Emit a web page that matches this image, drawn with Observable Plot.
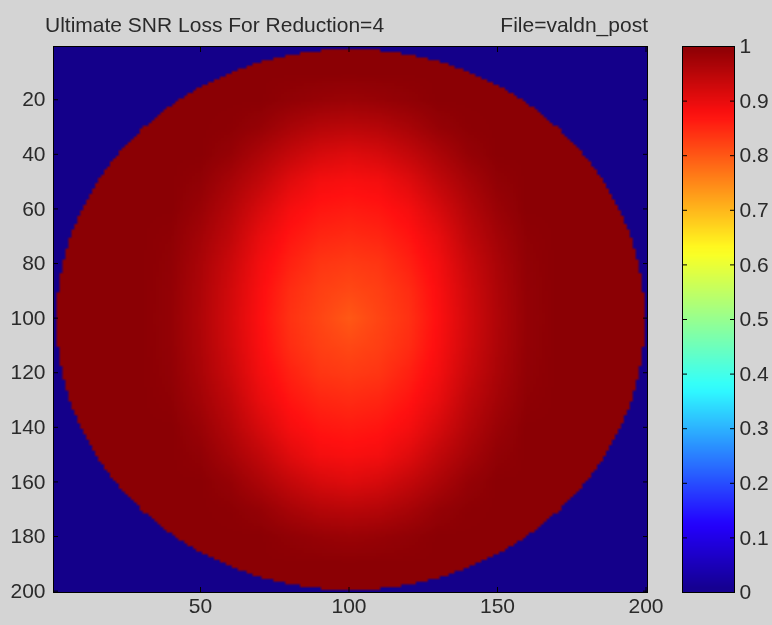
<!DOCTYPE html>
<html><head><meta charset="utf-8">
<script src="https://cdn.jsdelivr.net/npm/d3@7"></script>
<script src="https://cdn.jsdelivr.net/npm/@observablehq/plot@0.6"></script>
<style>
html,body{margin:0;padding:0;background:#d4d4d4;}
#fig{position:relative;width:772px;height:625px;background:#d4d4d4;overflow:hidden;font-family:"Liberation Sans",Arial,sans-serif;filter:blur(0.6px);}
.t{position:absolute;font-size:21px;color:#2a2a2a;white-space:nowrap;line-height:24px;}
#main{position:absolute;left:0;top:0;}
#cbar{position:absolute;left:660px;top:0;}
</style></head><body>
<div id="fig">
  <div class="t" id="title" style="left:45px;top:13px;"></div>
  <div class="t" id="file" style="right:124px;top:13px;"></div>
  <div id="main"></div>
  <div id="cbar"></div>
</div>
<script>
// ---- text ----
const titleText = "Ultimate SNR Loss For Reduction=4";
const fileText = "File=valdn_post";

// ---- data ----
// image is 200 x 200; outside the circular field of view the value is 0
const imageSize = 200;
const circleCenter = [100.5, 100.5];
const circleRadius = 99;
const outsideValue = 0;
const ringValue = 1;          // saturated value inside the circle, outside the sampled grid
// sampled values of the field (every 10 pixels) in the central region
const gridX = [30, 40, 50, 60, 70, 80, 90, 100, 110, 120, 130, 140, 150, 160, 170];
const gridY = [10, 20, 30, 40, 50, 60, 70, 80, 90, 100, 110, 120, 130, 140, 150, 160, 170, 180, 190];
const snrGrid = [
  [1, 1, 1, 1, 1, 1, 1, 1, 1, 1, 1, 1, 1, 1, 1],
  [1, 1, 1, 1, 1, 0.993, 0.987, 0.983, 0.987, 0.993, 1, 1, 1, 1, 1],
  [1, 1, 1, 0.998, 0.988, 0.969, 0.955, 0.95, 0.955, 0.969, 0.988, 0.998, 1, 1, 1],
  [1, 1, 1, 0.988, 0.964, 0.939, 0.919, 0.91, 0.919, 0.939, 0.964, 0.988, 1, 1, 1],
  [1, 1, 0.993, 0.97, 0.942, 0.908, 0.886, 0.881, 0.886, 0.908, 0.942, 0.97, 0.993, 1, 1],
  [1, 1, 0.984, 0.956, 0.919, 0.885, 0.869, 0.864, 0.869, 0.885, 0.919, 0.956, 0.984, 1, 1],
  [1, 0.996, 0.974, 0.944, 0.9, 0.87, 0.853, 0.847, 0.853, 0.87, 0.9, 0.944, 0.974, 0.996, 1],
  [1, 0.993, 0.967, 0.932, 0.888, 0.857, 0.836, 0.83, 0.836, 0.857, 0.888, 0.932, 0.967, 0.993, 1],
  [1, 0.991, 0.963, 0.925, 0.881, 0.845, 0.826, 0.816, 0.826, 0.845, 0.881, 0.925, 0.963, 0.991, 1],
  [1, 0.99, 0.961, 0.922, 0.878, 0.84, 0.82, 0.80, 0.82, 0.84, 0.878, 0.922, 0.961, 0.99, 1],
  [1, 0.991, 0.963, 0.925, 0.881, 0.845, 0.826, 0.816, 0.826, 0.845, 0.881, 0.925, 0.963, 0.991, 1],
  [1, 0.993, 0.967, 0.932, 0.888, 0.857, 0.836, 0.83, 0.836, 0.857, 0.888, 0.932, 0.967, 0.993, 1],
  [1, 0.996, 0.974, 0.944, 0.9, 0.87, 0.853, 0.847, 0.853, 0.87, 0.9, 0.944, 0.974, 0.996, 1],
  [1, 1, 0.984, 0.956, 0.919, 0.885, 0.869, 0.864, 0.869, 0.885, 0.919, 0.956, 0.984, 1, 1],
  [1, 1, 0.993, 0.97, 0.942, 0.908, 0.886, 0.881, 0.886, 0.908, 0.942, 0.97, 0.993, 1, 1],
  [1, 1, 1, 0.988, 0.964, 0.939, 0.919, 0.91, 0.919, 0.939, 0.964, 0.988, 1, 1, 1],
  [1, 1, 1, 0.998, 0.988, 0.969, 0.955, 0.95, 0.955, 0.969, 0.988, 0.998, 1, 1, 1],
  [1, 1, 1, 1, 1, 0.993, 0.987, 0.983, 0.987, 0.993, 1, 1, 1, 1, 1],
  [1, 1, 1, 1, 1, 1, 1, 1, 1, 1, 1, 1, 1, 1, 1]
];

// ---- ticks ----
const xTicks = [50, 100, 150, 200];
const yTicks = [20, 40, 60, 80, 100, 120, 140, 160, 180, 200];
const cbarTicks = [0, 0.1, 0.2, 0.3, 0.4, 0.5, 0.6, 0.7, 0.8, 0.9, 1];
const cbarTickLabels = ["0", "0.1", "0.2", "0.3", "0.4", "0.5", "0.6", "0.7", "0.8", "0.9", "1"];

// ---- colormap (jet-like, as in the picture) ----
const jetStops = [0, 0.125, 0.375, 0.625, 0.875, 1];
const jetColors = ["#14008a", "#2400ff", "#30ffff", "#ffff20", "#ff1010", "#8b0004"];
const colorScale = {type: "linear", domain: jetStops, range: jetColors, interpolate: "rgb"};

// ---- build the 200x200 table from the sampled grid ----
function sampleGrid(x, y) {
  if (x < gridX[0] || x > gridX[gridX.length - 1] || y < gridY[0] || y > gridY[gridY.length - 1]) return ringValue;
  const step = 10;
  let i = Math.min(gridX.length - 2, Math.floor((x - gridX[0]) / step));
  let j = Math.min(gridY.length - 2, Math.floor((y - gridY[0]) / step));
  const tx = (x - gridX[i]) / step, ty = (y - gridY[j]) / step;
  const a = snrGrid[j][i], b = snrGrid[j][i + 1], c = snrGrid[j + 1][i], d = snrGrid[j + 1][i + 1];
  return (a * (1 - tx) + b * tx) * (1 - ty) + (c * (1 - tx) + d * tx) * ty;
}
const values = new Float64Array(imageSize * imageSize);
for (let r = 0; r < imageSize; ++r) {
  const y = r + 1;
  for (let c = 0; c < imageSize; ++c) {
    const x = c + 1;
    const inside = (x - circleCenter[0]) ** 2 + (y - circleCenter[1]) ** 2 <= circleRadius ** 2;
    values[r * imageSize + c] = inside ? sampleGrid(x, y) : outsideValue;
  }
}

const font = '"Liberation Sans", Arial, sans-serif';
const textColor = "#2a2a2a";

const main = Plot.plot({
  width: 660, height: 625,
  marginLeft: 53, marginRight: 13, marginTop: 46, marginBottom: 33,
  style: {background: "transparent", fontFamily: font, fontSize: "21px", color: textColor, overflow: "visible"},
  x: {domain: [0.5, 200.5], label: null},
  y: {domain: [0.5, 200.5], reverse: true, label: null},
  color: colorScale,
  marks: [
    Plot.raster(values, {width: imageSize, height: imageSize, x1: 0.5, x2: 200.5, y1: 0.5, y2: 200.5, imageRendering: "auto"}),
    Plot.frame({stroke: "#000", strokeWidth: 1}),
    Plot.axisX(xTicks, {anchor: "bottom", tickSize: 0, tickPadding: 6, label: null, fill: textColor}),
    Plot.axisX(xTicks, {anchor: "bottom", tickSize: -5, tickFormat: () => "", label: null, stroke: "#000"}),
    Plot.axisX(xTicks, {anchor: "top", tickSize: -5, tickFormat: () => "", label: null, stroke: "#000"}),
    Plot.axisY(yTicks, {anchor: "left", tickSize: 0, tickPadding: 8, label: null, fill: textColor}),
    Plot.axisY(yTicks, {anchor: "left", tickSize: -5, tickFormat: () => "", label: null, stroke: "#000"}),
    Plot.axisY(yTicks, {anchor: "right", tickSize: -5, tickFormat: () => "", label: null, stroke: "#000"})
  ]
});
document.getElementById("main").appendChild(main);

const colorbarLevels = d3.range(64).map(i => (i + 0.5) / 64);
const cbar = Plot.plot({
  width: 112, height: 625,
  marginLeft: 22, marginRight: 38, marginTop: 46, marginBottom: 33,
  style: {background: "transparent", fontFamily: font, fontSize: "21px", color: textColor, overflow: "visible"},
  x: {domain: [0, 1], axis: null},
  y: {domain: [0, 1], label: null},
  color: colorScale,
  marks: [
    Plot.raster(colorbarLevels, {width: 1, height: colorbarLevels.length, x1: 0, x2: 1, y1: 0, y2: 1, imageRendering: "auto"}),
    Plot.frame({stroke: "#000", strokeWidth: 1}),
    Plot.axisY(cbarTicks, {anchor: "right", tickSize: 0, tickPadding: 5, label: null, fill: textColor,
      tickFormat: d => cbarTickLabels[cbarTicks.indexOf(d)]}),
    Plot.axisY(cbarTicks, {anchor: "right", tickSize: -5, tickFormat: () => "", label: null, stroke: "#000"}),
    Plot.axisY(cbarTicks, {anchor: "left", tickSize: -5, tickFormat: () => "", label: null, stroke: "#000"})
  ]
});
document.getElementById("cbar").appendChild(cbar);

document.getElementById("title").textContent = titleText;
document.getElementById("file").textContent = fileText;
</script>
</body></html>
